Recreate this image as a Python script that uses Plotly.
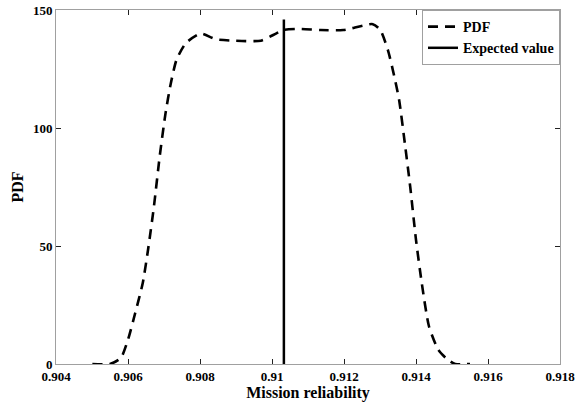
import plotly.graph_objects as go

pdf_x = [0.90501, 0.9055, 0.9058, 0.90600, 0.90620, 0.90641, 0.90657, 0.90672, 0.90688,
         0.90704, 0.90719, 0.90735, 0.90761, 0.90802, 0.90844, 0.90896, 0.90969, 0.91011,
         0.91031, 0.91073, 0.91135, 0.91198, 0.9128, 0.91301, 0.91322, 0.91338, 0.91353,
         0.91369, 0.91384, 0.9140, 0.91416, 0.91436, 0.91462, 0.91488, 0.91509, 0.9155]
pdf_y = [0, 0, 2.5, 10.3, 21.6, 34.3, 49.8, 66.7, 87.9,
         106, 119, 129, 136, 140, 137.6, 137, 137, 140,
         141.5, 142, 141.5, 141.5, 144, 141.5, 133, 123, 112,
         93.5, 75, 52.6, 34.3, 16, 6, 1.8, 0, 0]

ev_x = [0.91033, 0.91033]
ev_y = [0, 146]

x_ticks = [0.904, 0.906, 0.908, 0.910, 0.912, 0.914, 0.916, 0.918]
x_tick_labels = ["0.904", "0.906", "0.908", "0.91", "0.912", "0.914", "0.916", "0.918"]
y_ticks = [0, 50, 100, 150]

font = "Liberation Serif, Times New Roman, serif"

fig = go.Figure()
fig.add_trace(go.Scatter(x=pdf_x, y=pdf_y, mode="lines", name="<b>PDF</b>",
                         line=dict(color="black", width=2.6, dash="10px,7px", shape="spline", smoothing=0.6)))
fig.add_trace(go.Scatter(x=ev_x, y=ev_y, mode="lines", name="<b>Expected value</b>",
                         line=dict(color="black", width=2.5)))

axis_common = dict(showline=True, linecolor="#a0a0a0", linewidth=1, mirror="ticks",
                   ticks="inside", ticklen=5, tickcolor="#222", tickwidth=1,
                   showgrid=False, zeroline=False, automargin=False,
                   tickfont=dict(family=font, size=13, color="black"))

fig.update_layout(
    width=584, height=406,
    margin=dict(l=56, r=24, t=10, b=42),
    paper_bgcolor="white", plot_bgcolor="white",
    font=dict(family=font, color="black"),
    xaxis=dict(range=[0.904, 0.918], tickvals=x_ticks, ticktext=["<b>%s</b>" % t for t in x_tick_labels],
               title=dict(text="<b>Mission reliability</b>", font=dict(family=font, size=16), standoff=2),
               **axis_common),
    yaxis=dict(range=[0, 150], tickvals=y_ticks, ticktext=["<b>%d</b>" % v for v in y_ticks],
               title=dict(text="<b>PDF</b>", font=dict(family=font, size=16), standoff=5),
               **axis_common),
    legend=dict(x=1, xanchor="right", y=1, yanchor="top", bgcolor="white",
                bordercolor="#a0a0a0", borderwidth=1,
                font=dict(family=font, size=14, color="black"),
                tracegroupgap=0, itemwidth=30),
    showlegend=True,
)

fig.write_html("out.html", config={"displayModeBar": False},
               post_script="document.body.style.margin='0px';")
